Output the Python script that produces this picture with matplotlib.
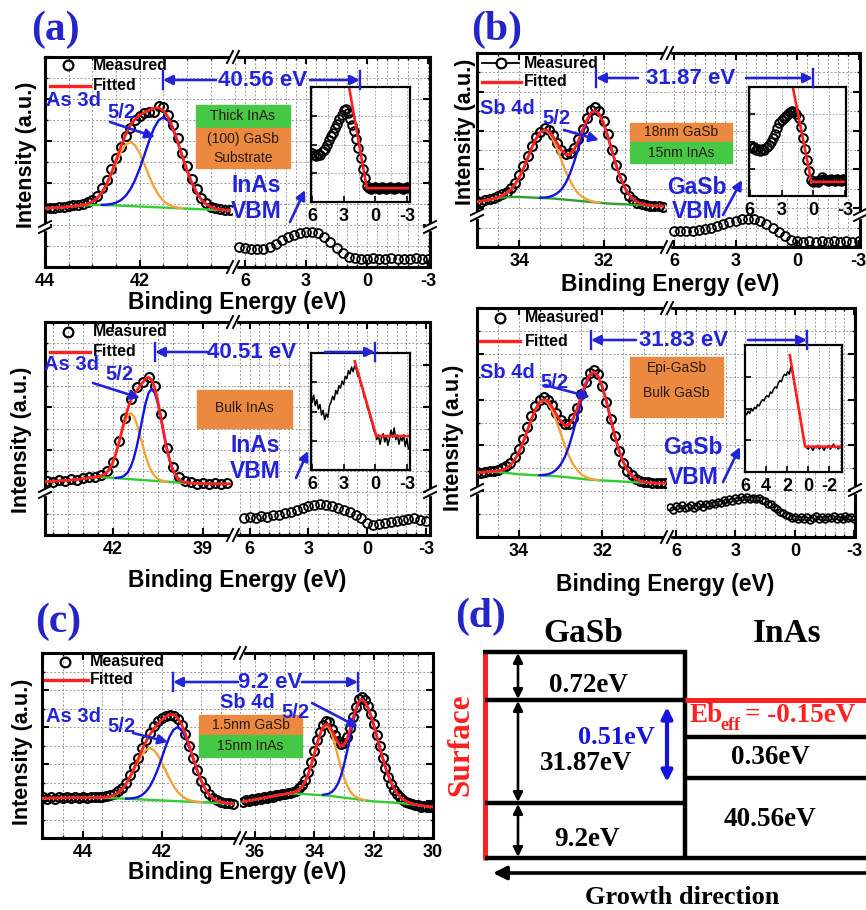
import numpy as np
import matplotlib.pyplot as plt
from matplotlib.ticker import MultipleLocator
from matplotlib.patches import Rectangle

plt.rcParams['font.family'] = ['Liberation Sans', 'DejaVu Sans']
plt.rcParams['font.weight'] = 'bold'
plt.rcParams['axes.unicode_minus'] = False

# ---------------- data (intensity in % of panel height) ----------------
# (a) top: thick InAs / (100) GaSb, As 3d5/2, 0.1 eV grid from 44.0 eV
a1_bg = [28.0, 28.1, 28.2, 28.3, 28.5, 28.7, 28.9, 29.1, 29.3, 29.4,
         29.5, 29.5, 29.5, 29.4, 29.4, 29.3, 29.2, 29.1, 29.0, 28.9,
         28.8, 28.7, 28.6, 28.5, 28.4, 28.3, 28.2, 28.1, 28.0, 27.9,
         27.8, 27.7, 27.6, 27.5, 27.4, 27.3, 27.2, 27.1, 27.0, 26.9]
a1_p1 = [0.0] * 7 + [0.1, 0.3, 0.7, 1.6, 3.2, 5.9, 9.7, 14.6, 20.2, 25.4, 29.1, 30.5,
                     29.1, 25.4, 20.2, 14.6, 9.7, 5.9, 3.2, 1.6, 0.7, 0.3, 0.1] + [0.0] * 10
a1_p2 = [0.0] * 12 + [0.1, 0.3, 0.6, 1.3, 2.6, 4.7, 7.9, 12.4, 18.1, 24.7, 31.5, 37.5, 41.5, 43.0,
                      41.5, 37.5, 31.5, 24.7, 18.1, 12.4, 7.9, 4.7, 2.6, 1.3, 0.6, 0.3, 0.1] + [0.0]
a1_meas = [28.0, 28.3, 28.0, 28.6, 28.8, 29.0, 29.5, 29.6, 30.2, 31.0,
           32.0, 34.0, 37.5, 41.5, 46.5, 52.0, 57.0, 62.5, 66.0, 70.0,
           72.0, 73.5, 74.0, 74.0, 76.5, 76.0, 72.5, 67.5, 61.5, 54.5,
           48.0, 42.0, 37.0, 33.0, 30.5, 28.8, 28.0, 27.5, 27.2, 27.0]
# InAs VBM, 0.3 eV grid from 6.3 eV
a1_vbm = [9.5, 9.0, 8.6, 8.5, 8.8, 9.6, 11.0, 12.8, 14.2, 15.2, 16.0, 16.6, 16.8, 16.3, 14.5, 11.8,
          9.0, 6.5, 4.8, 4.2, 4.0, 4.0, 4.1, 3.9, 4.0, 4.1, 3.9, 4.0, 4.0, 4.1, 3.9, 4.0]
# inset, 0.2 eV grid from 6.0 eV
a1_in = [43, 41, 40, 42, 41, 44, 46, 50, 54, 57,
         60, 64, 68, 72, 76, 80, 81, 77, 72, 67,
         62, 55, 47, 38, 29, 21, 14, 12, 11, 12,
         13, 12, 11, 13, 12, 11, 12, 13, 12, 11,
         12, 13, 12, 11, 12, 13, 12]
a1_fit_e = [2.45, 0.8, -3.3]
a1_fit = [98, 12, 12]

# (a) bottom: bulk InAs, 0.1 eV grid from 44.2 eV
a2_bg = [25.0, 25.1, 25.2, 25.3, 25.4, 25.5, 25.6, 25.7, 25.8, 25.9,
         26.0, 26.2, 26.4, 26.6, 26.8, 27.0, 27.1, 27.2, 27.2, 27.1,
         27.0, 26.9, 26.8, 26.7, 26.6, 26.5, 26.4, 26.3, 26.2, 26.1,
         26.0, 25.9, 25.8, 25.7, 25.6, 25.5, 25.4, 25.3, 25.2, 25.1,
         25.0, 24.9, 24.8, 24.7, 24.6, 24.5, 24.5, 24.4, 24.4, 24.3,
         24.3, 24.2, 24.2, 24.1, 24.1, 24.0, 24.0, 24.0, 24.0, 24.0,
         24.0, 24.0]
a2_p1 = [0.0] * 16 + [0.1, 0.2, 0.5, 1.1, 2.3, 4.2, 7.1, 11.2, 16.1, 21.5, 26.3, 29.8, 31.0,
                      29.8, 26.3, 21.5, 16.1, 11.2, 7.1, 4.2, 2.3, 1.1, 0.5, 0.2, 0.1] + [0.0] * 21
a2_p2 = [0.0] * 23 + [0.1, 0.3, 0.7, 1.6, 3.1, 5.8, 9.9, 15.5, 22.4, 29.8, 36.5, 41.3, 43.0,
                      41.3, 36.5, 29.8, 22.4, 15.5, 9.9, 5.8, 3.1, 1.6, 0.7, 0.3, 0.1] + [0.0] * 14
# measured, 0.2 eV grid from 44.2 eV
a2_meas = [25.3, 25.0, 25.8, 25.5, 26.2, 26.0, 26.8, 27.0, 27.3, 28.0, 30.0, 34.5, 44.0, 55.0, 64.0,
           69.5, 72.0, 74.0, 70.0, 57.0, 41.0, 32.0, 27.0, 25.2, 24.8, 24.0, 24.6, 23.8, 24.5, 24.0, 24.3]
a2_vbm = [8.0, 8.5, 8.2, 8.9, 8.6, 9.2, 9.6, 10.2, 11.0, 11.9, 12.8, 13.4, 14.0, 14.6, 14.3, 13.8,
          12.9, 11.9, 10.8, 9.4, 7.8, 5.8, 4.8, 5.2, 5.6, 6.2, 6.8, 7.2, 7.6, 8.0, 7.2, 6.6]
# inset line, 0.15 eV grid from 6.0 eV
a2_in = [58, 64, 55, 60, 52, 56, 47, 51, 43, 48,
         45, 55, 58, 63, 60, 68, 65, 72, 70, 76,
         73, 80, 78, 85, 82, 88, 84, 89, 86, 80,
         79, 72, 70, 62, 61, 53, 50, 44, 40, 34,
         31, 26, 30, 22, 28, 31, 24, 29, 21, 27,
         34, 28, 36, 26, 30, 22, 28, 25, 30, 20,
         27, 18]
a2_fit_e = [1.95, -0.1, -3.3]
a2_fit = [93, 29, 29]

# (b) top: 18nm GaSb / 15nm InAs, Sb 4d5/2, 0.1 eV grid from 35.0 eV
b1_bg = [23.2, 23.6, 24.0, 24.4, 24.8, 25.2, 25.5, 25.7, 25.8, 25.8,
         25.8, 25.7, 25.6, 25.5, 25.4, 25.3, 25.2, 25.1, 25.0, 24.8,
         24.6, 24.4, 24.2, 24.0, 23.8, 23.6, 23.4, 23.2, 23.0, 22.8,
         22.6, 22.4, 22.3, 22.2, 22.1, 22.0, 21.9, 21.8, 21.7, 21.6,
         21.5, 21.4, 21.3, 21.2, 21.1]
b1_p1 = [0.0] * 3 + [0.1, 0.2, 0.5, 1.1, 2.1, 3.8, 6.4, 10.1, 14.7, 20.1, 25.7, 30.5, 33.8, 35.0,
                     33.8, 30.5, 25.7, 20.1, 14.7, 10.1, 6.4, 3.8, 2.1, 1.1, 0.5, 0.2, 0.1] + [0.0] * 15
b1_p2 = [0.0] * 15 + [0.1, 0.3, 0.7, 1.5, 2.9, 5.1, 8.6, 13.5, 19.8, 27.0, 34.5, 40.9, 45.4, 47.0,
                      45.4, 40.9, 34.5, 27.0, 19.8, 13.5, 8.6, 5.1, 2.9, 1.5, 0.7, 0.3, 0.1] + [0.0] * 3
b1_meas = [23.5, 23.4, 24.3, 24.6, 25.4, 26.2, 27.3, 28.6, 30.5, 33.0,
           37.0, 41.5, 46.8, 52.0, 56.5, 59.5, 61.2, 60.5, 57.5, 53.5,
           50.0, 48.0, 48.5, 51.0, 55.5, 61.0, 66.5, 70.5, 72.0, 70.0,
           65.0, 58.0, 50.0, 42.5, 35.5, 30.0, 26.5, 24.0, 22.8, 22.0,
           21.6, 21.3, 21.0, 21.0, 20.8]
# GaSb VBM, 0.3 eV grid from 6.0 eV
b1_vbm = [8.0, 8.2, 8.0, 8.3, 8.6, 9.2, 10.0, 11.0, 12.0, 12.9, 13.6, 14.2, 14.5, 14.2, 13.4, 12.0,
          10.0, 7.8, 5.5, 3.8, 3.0, 2.8, 2.9, 2.8, 2.9, 2.8, 2.9, 2.8, 2.9, 2.8, 2.9]
# inset, 0.2 eV grid from 6.0 eV
b1_in = [46, 44, 45, 42, 43, 41, 43, 42, 45, 47,
         50, 53, 57, 62, 67, 70, 72, 73, 75, 77,
         78, 77, 75, 72, 63, 53, 43, 33, 23, 15,
         13, 14, 13, 15, 17, 16, 15, 14, 16, 15,
         14, 16, 15, 14, 16, 15]
b1_fit_e = [1.94, 0.2, -3.1]
b1_fit = [100, 13, 13]

# (b) bottom: epi-GaSb / bulk GaSb, 0.1 eV grid from 35.0 eV
b2_bg = [28.0, 28.2, 28.4, 28.5, 28.5, 28.4, 28.2, 28.0, 27.8, 27.6,
         27.4, 27.3, 27.2, 27.1, 27.0, 26.9, 26.8, 26.7, 26.6, 26.5,
         26.4, 26.2, 26.0, 25.8, 25.6, 25.4, 25.2, 25.0, 24.9, 24.8,
         24.7, 24.6, 24.5, 24.4, 24.3, 24.2, 24.1, 24.0, 23.9, 23.8,
         23.7, 23.6, 23.6, 23.5, 23.5, 23.5]
b2_p1 = [0.0] * 3 + [0.1, 0.2, 0.5, 1.0, 2.0, 3.6, 6.0, 9.5, 13.9, 19.0, 24.2, 28.7, 31.9, 33.0,
                     31.9, 28.7, 24.2, 19.0, 13.9, 9.5, 6.0, 3.6, 2.0, 1.0, 0.5, 0.2, 0.1] + [0.0] * 16
b2_p2 = [0.0] * 15 + [0.1, 0.3, 0.7, 1.5, 2.9, 5.1, 8.6, 13.5, 19.8, 27.0, 34.5, 40.9, 45.4, 47.0,
                      45.4, 40.9, 34.5, 27.0, 19.8, 13.5, 8.6, 5.1, 2.9, 1.5, 0.7, 0.3, 0.1] + [0.0] * 4
b2_meas = [28.3, 28.0, 28.6, 28.9, 29.0, 29.4, 30.0, 31.0, 32.5, 35.0,
           38.5, 43.0, 48.0, 53.0, 57.0, 59.8, 61.0, 60.0, 57.5, 54.0,
           51.0, 49.5, 49.5, 52.0, 56.5, 62.5, 67.5, 71.5, 73.0, 71.0,
           66.0, 59.0, 51.5, 44.0, 37.5, 32.5, 29.0, 27.0, 25.5, 24.5,
           24.2, 23.8, 23.5, 23.7, 23.4, 23.6]
# GaSb VBM, 0.15 eV grid from 6.3 eV
b2_vbm = [13.0, 12.0, 13.5, 12.5, 13.8, 12.6, 13.2, 14.0, 12.8, 13.6,
          14.2, 13.0, 14.6, 13.8, 15.0, 14.2, 15.4, 14.8, 16.0, 15.2,
          16.4, 15.8, 17.0, 16.2, 17.4, 16.6, 17.6, 16.8, 17.2, 16.4,
          17.0, 16.0, 15.6, 14.6, 14.2, 13.0, 12.4, 11.0, 10.4, 9.4,
          9.0, 8.2, 8.8, 7.8, 8.6, 8.0, 8.8, 7.6, 8.4, 9.0,
          8.0, 8.6, 7.8, 8.8, 8.2, 9.0, 7.8, 8.6, 8.0, 9.2,
          8.2, 8.8, 8.0]
# inset line, 0.15 eV grid from 6.0 eV
b2_in = [47, 45, 48, 46, 50, 48, 51, 50, 53, 52,
         55, 57, 56, 59, 60, 59, 63, 62, 65, 67,
         66, 70, 72, 71, 75, 77, 76, 79, 77, 83,
         78, 71, 64, 56, 49, 42, 34, 27, 21, 19,
         18, 20, 19, 17, 20, 19, 21, 18, 20, 19,
         17, 20, 19, 21, 18, 20, 22, 19, 20, 18,
         20, 19]
b2_fit_e = [1.75, 0.3, -3.2]
b2_fit = [92, 20, 20]

# (c) 1.5nm GaSb / 15nm InAs: As 3d (0.1 eV grid from 45.0 eV) and Sb 4d (from 36.4 eV)
c1_bg = [21.5, 21.5, 21.6, 21.6, 21.6, 21.7, 21.7, 21.7, 21.8, 21.8,
         21.8, 21.8, 21.8, 21.8, 21.8, 21.8, 21.7, 21.6, 21.5, 21.4,
         21.3, 21.2, 21.1, 21.0, 20.9, 20.8, 20.7, 20.6, 20.5, 20.4,
         20.3, 20.2, 20.1, 20.0, 19.9, 19.8, 19.7, 19.6, 19.5, 19.4,
         19.3, 19.2, 19.1, 19.0, 18.9, 18.8, 18.7, 18.6, 18.5]
c1_p1 = [0.0] * 14 + [0.1, 0.2, 0.4, 0.9, 1.7, 3.1, 5.1, 8.1, 11.8, 16.1, 20.5, 24.4, 27.0, 28.0,
                      27.0, 24.4, 20.5, 16.1, 11.8, 8.1, 5.1, 3.1, 1.7, 0.9, 0.4, 0.2, 0.1] + [0.0] * 8
c1_p2 = [0.0] * 21 + [0.1, 0.3, 0.6, 1.2, 2.4, 4.4, 7.3, 11.5, 16.8, 23.0, 29.3, 34.8, 38.6, 40.0,
                      38.6, 34.8, 29.3, 23.0, 16.8, 11.5, 7.3, 4.4, 2.4, 1.2, 0.6, 0.3, 0.1] + [0.0]
c1_meas = [22.0, 21.0, 22.2, 21.2, 21.9, 21.4, 22.3, 21.5, 22.0, 21.6,
           22.2, 21.7, 22.3, 21.9, 22.4, 22.3, 22.6, 23.0, 23.8, 25.2,
           27.0, 30.0, 34.0, 38.5, 43.5, 48.5, 53.0, 57.0, 60.5, 63.0,
           65.0, 66.0, 66.5, 66.0, 64.5, 61.0, 56.0, 50.0, 43.0, 37.0,
           31.0, 27.0, 24.0, 21.8, 20.3, 19.6, 18.8, 18.9, 18.4]
c2_bg = [19.6, 19.9, 20.2, 20.5, 20.8, 21.1, 21.4, 21.7, 22.0, 22.3,
         22.6, 22.9, 23.2, 23.5, 23.7, 23.9, 24.0, 24.0, 24.0, 23.9,
         23.8, 23.7, 23.6, 23.5, 23.4, 23.3, 23.2, 23.1, 23.0, 22.8,
         22.6, 22.4, 22.2, 22.0, 21.8, 21.6, 21.4, 21.2, 21.0, 20.8,
         20.6, 20.4, 20.2, 20.0, 19.8, 19.7, 19.6, 19.5, 19.4, 19.3,
         19.2, 19.1, 19.0, 18.9, 18.7, 18.5, 18.3, 18.1, 17.9, 17.7,
         17.5, 17.3, 17.1, 16.9, 16.8]
c2_p1 = [0.0] * 15 + [0.1, 0.3, 0.6, 1.2, 2.3, 4.1, 7.0, 10.9, 16.0, 21.9, 27.9, 33.1, 36.7, 38.0,
                      36.7, 33.1, 27.9, 21.9, 16.0, 10.9, 7.0, 4.1, 2.3, 1.2, 0.6, 0.3, 0.1] + [0.0] * 23
c2_p2 = [0.0] * 27 + [0.3, 0.6, 1.2, 2.4, 4.3, 7.3, 11.7, 17.6, 24.7, 32.8, 40.8, 47.6, 52.3, 54.0,
                      53.1, 50.5, 46.5, 41.5, 35.7, 29.8, 24.0, 18.7, 14.1, 10.3, 7.3, 5.0, 3.3,
                      2.1, 1.3, 0.8, 0.4, 0.3, 0.2] + [0.0] * 5
c2_meas = [19.3, 20.3, 19.9, 20.9, 20.6, 21.5, 21.2, 22.1, 21.8, 22.7,
           22.4, 23.3, 23.0, 23.9, 23.6, 24.4, 24.5, 25.0, 25.6, 26.8,
           28.6, 31.5, 35.5, 41.0, 47.0, 53.0, 57.5, 61.0, 63.0, 62.5,
           59.0, 55.5, 52.5, 51.0, 51.5, 54.5, 59.5, 65.5, 71.0, 75.0,
           76.0, 74.5, 71.5, 67.0, 61.5, 55.5, 49.5, 43.5, 38.0, 33.0,
           29.0, 26.0, 23.8, 22.0, 20.5, 19.6, 18.7, 18.3, 17.7, 17.6,
           17.0, 17.4, 16.8, 17.0, 16.5]

# (d) band alignment labels
d_layers = ['GaSb', 'InAs']
d_gasb = ['0.72eV', '31.87eV', '9.2eV']
d_inas = ['0.36eV', '40.56eV']
d_offset = '0.51eV'
d_eb = '= -0.15eV'


def grid(start, step, vals):
    return np.round(start - step * np.arange(len(vals)), 3)


# ---------------- drawing ----------------
W, H = 866, 910
fig = plt.figure(figsize=(W / 100, H / 100), dpi=100)
BLUE = '#2323DA'
RED = '#FF2020'
ORANGE = '#F4A23A'
CBLUE = '#1414E0'
BOXO = '#EC8940'
BOXG = '#45C845'
SERIF = ['Liberation Serif', 'DejaVu Serif']


def rect(x, y, w, h):
    return [x / W, 1 - (y + h) / H, w / W, h / H]


def frame(r, xlim, major, minor, side):
    ax = fig.add_axes(rect(*r))
    ax.set_xlim(*xlim)
    ax.set_ylim(0, 100)
    ax.xaxis.set_major_locator(MultipleLocator(major))
    ax.xaxis.set_minor_locator(MultipleLocator(minor))
    ax.yaxis.set_major_locator(MultipleLocator(20))
    ax.yaxis.set_minor_locator(MultipleLocator(10))
    ax.grid(which='both', color='#9a9a9a', ls=(0, (2, 2)), lw=0.7)
    ax.set_axisbelow(True)
    ax.tick_params(which='both', direction='in', top=True, labelleft=False,
                   left=(side == 'L'), right=(side == 'R'))
    ax.tick_params(which='major', length=5, width=1.5, labelsize=13, pad=4)
    ax.tick_params(which='minor', length=2.5, width=1.0)
    for s in ax.spines.values():
        s.set_linewidth(2.2)
    ax.spines['right' if side == 'L' else 'left'].set_visible(False)
    return ax


def core(ax, start, bg, p1, p2, mstart, mstep, meas, green='#33CC33'):
    e = grid(start, 0.1, bg)
    bg, p1, p2 = np.array(bg), np.array(p1), np.array(p2)
    ax.plot(grid(mstart, mstep, meas), meas, 'o', mfc='none', mec='k', ms=6.4, mew=1.5, zorder=3)
    ax.plot(e, bg, color=green, lw=1.7, zorder=4)
    ax.plot(e[p1 > 0], (bg + p1)[p1 > 0], color=ORANGE, lw=1.7, zorder=4)
    ax.plot(e[p2 > 0], (bg + p2)[p2 > 0], color=CBLUE, lw=1.7, zorder=4)
    ax.plot(e, bg + p1 + p2, color=RED, lw=2.0, zorder=5)


def vbm(ax, start, step, vals, ms=6.4):
    ax.plot(grid(start, step, vals), vals, 'o', mfc='none', mec='k', ms=ms, mew=1.3, zorder=3)


def inset(r, xlim, major, step, vals, fe, fv, line=False):
    ax = fig.add_axes(rect(*r), zorder=5)
    ax.set_xlim(*xlim)
    ax.set_ylim(0, 100)
    ax.xaxis.set_major_locator(MultipleLocator(major))
    ax.xaxis.set_minor_locator(MultipleLocator(major / 2))
    ax.yaxis.set_major_locator(MultipleLocator(25))
    ax.grid(which='both', color='#9a9a9a', ls=(0, (2, 2)), lw=0.6)
    ax.tick_params(which='both', direction='in', labelleft=False, length=4, width=1.2,
                   labelsize=13, pad=4)
    ax.tick_params(which='minor', length=0)
    for s in ax.spines.values():
        s.set_linewidth(1.6)
    e = grid(6.0, step, vals)
    if line:
        ax.plot(e, vals, color='k', lw=1.1)
    else:
        ax.plot(e, vals, 'o', mfc='none', mec='k', ms=6.2, mew=1.4)
    ax.plot(fe, fv, color=RED, lw=1.9)


# (a) top
ax = frame((45, 57, 188, 210), (44.0, 40.03), 2, 0.5, 'L')
core(ax, 44.0, a1_bg, a1_p1, a1_p2, 44.0, 0.1, a1_meas)
ax = frame((233, 57, 197, 210), (6.6, -3.1), 3, 0.5, 'R')
vbm(ax, 6.3, 0.3, a1_vbm)
inset((311, 87, 99, 115), (6.1, -3.3), 3, 0.2, a1_in, a1_fit_e, a1_fit)

# (a) bottom
ax = frame((45, 322, 188, 213), (44.25, 38.0), 3, 0.5, 'L')
core(ax, 44.2, a2_bg, a2_p1, a2_p2, 44.2, 0.2, a2_meas)
ax = frame((233, 322, 197, 213), (6.85, -3.2), 3, 0.5, 'R')
vbm(ax, 6.3, 0.3, a2_vbm)
inset((311, 353, 99, 117), (6.1, -3.3), 3, 0.15, a2_in, a2_fit_e, a2_fit, line=True)

# (b) top
ax = frame((477, 53, 190, 194), (35.0, 30.5), 2, 0.5, 'L')
core(ax, 35.0, b1_bg, b1_p1, b1_p2, 35.0, 0.1, b1_meas, green='#2E9E2E')
ax = frame((667, 53, 193, 194), (6.35, -3.07), 3, 0.5, 'R')
vbm(ax, 6.0, 0.3, b1_vbm)
inset((749, 87, 97, 109), (6.05, -3.05), 3, 0.2, b1_in, b1_fit_e, b1_fit)

# (b) bottom
ax = frame((477, 308, 190, 229), (35.0, 30.45), 2, 0.5, 'L')
core(ax, 35.0, b2_bg, b2_p1, b2_p2, 35.0, 0.1, b2_meas)
ax = frame((667, 308, 188, 229), (6.45, -3.03), 3, 0.5, 'R')
vbm(ax, 6.3, 0.15, b2_vbm, ms=4.8)
inset((745, 345, 97, 127), (6.0, -3.2), 2, 0.15, b2_in, b2_fit_e, b2_fit, line=True)

# (c)
ax = frame((42, 653, 198, 185), (45.03, 40.02), 2, 0.5, 'L')
core(ax, 45.0, c1_bg, c1_p1, c1_p2, 45.0, 0.1, c1_meas)
ax = frame((240, 653, 193, 185), (36.5, 30.0), 2, 0.5, 'R')
core(ax, 36.4, c2_bg, c2_p1, c2_p2, 36.4, 0.1, c2_meas)

# ---------------- overlay in pixel coordinates ----------------
ov = fig.add_axes([0, 0, 1, 1], zorder=10)
ov.set_xlim(0, W)
ov.set_ylim(H, 0)
ov.set_autoscale_on(False)
ov.axis('off')


def xbreak(x, y):
    ov.add_patch(Rectangle((x - 3, y - 4), 6, 8, color='white', zorder=1))
    for dx in (-3, 3):
        ov.plot([x + dx - 3, x + dx + 3], [y + 6, y - 6], color='k', lw=1.4)


def ybreak(x, y):
    ov.add_patch(Rectangle((x - 4, y - 3), 8, 6, color='white', zorder=1))
    for dy in (-3, 3):
        ov.plot([x - 6, x + 6], [y + dy + 3, y + dy - 3], color='k', lw=1.4)


def arrow(p0, p1, color=BLUE, lw=1.9, ms=14, style='-|>'):
    ov.annotate('', xy=p1, xytext=p0,
                arrowprops=dict(arrowstyle=style, color=color, lw=lw, mutation_scale=ms,
                                shrinkA=0, shrinkB=0))


def span(x0, x1, y, t0, t1, tc, label):
    for x in (x0, x1):
        ov.plot([x, x], [y - 9, y + 9], color=BLUE, lw=1.7)
    arrow((t0, y), (x0, y))
    arrow((t1, y), (x1, y))
    ov.text(tc, y, label, color=BLUE, fontsize=16, ha='center', va='center')


def legend(cx, y1, lx0, lx1, y2, tx, line=False):
    if line:
        ov.plot([lx0, lx1 - 2], [y1, y1], color='k', lw=1.3)
    ov.plot([cx], [y1], 'o', mfc='white' if line else 'none', mec='k', ms=7, mew=1.6)
    ov.text(tx, y1, 'Measured', fontsize=11.5, va='center')
    ov.plot([lx0, lx1], [y2, y2], color=RED, lw=2.4)
    ov.text(tx, y2, 'Fitted', fontsize=11.5, va='center')


def core_label(x, y, main, sx, sy, a0, a1):
    ov.text(x, y, main, color=BLUE, fontsize=14.5, va='center')
    ov.text(sx, sy, '5/2', color=BLUE, fontsize=14.5, va='center')
    arrow(a0, a1)


def vbm_label(cx, y1, y2, name, a0, a1):
    ov.text(cx, y1, name, color=BLUE, fontsize=16.5, ha='center', va='center')
    ov.text(cx, y2, 'VBM', color=BLUE, fontsize=16.5, ha='center', va='center')
    arrow(a0, a1)


def layer(x, y, w, h, color, lines):
    ov.add_patch(Rectangle((x, y), w, h, color=color, zorder=2))
    for ty, t in lines:
        ov.text(x + w / 2, ty, t, fontsize=10, weight='normal', color='#2a1a10',
                ha='center', va='center', zorder=3)


def xlabel(x, y):
    ov.text(x, y, 'Binding Energy (eV)', fontsize=16.5, ha='center', va='center')


def ylabel(x, y):
    ov.text(x, y, 'Intensity (a.u.)', fontsize=15.5, rotation=90, ha='center', va='center')


def plabel(x, y, t):
    ov.text(x, y, t, fontsize=30, family=SERIF, color='#2424C8', ha='center', va='center')


# breaks
for x, y in [(233, 57), (233, 267), (233, 322), (233, 535), (667, 53), (667, 247),
             (667, 308), (667, 537), (240, 653), (240, 838)]:
    xbreak(x, y)
for x, y in [(45, 227), (430, 227), (45, 492), (430, 492), (477, 215), (860, 215),
             (477, 490), (855, 490)]:
    ybreak(x, y)

# panel (a) top
plabel(55, 30, '(a)')
ylabel(27, 155)
xlabel(237, 302)
legend(68, 65, 50, 90, 86, 93)
span(163, 360, 80, 216, 310, 263, '40.56 eV')
core_label(46, 100, 'As 3d', 107, 113, (110, 122), (155, 137))
layer(196, 105, 94, 23, BOXG, [(116, 'Thick InAs')])
layer(196, 128, 94, 40, BOXO, [(139, '(100) GaSb'), (158, 'Substrate')])
vbm_label(256, 185, 212, 'InAs', (290, 222), (305, 190))

# panel (a) bottom
ylabel(22, 440)
xlabel(237, 580)
legend(68, 332, 50, 90, 352, 93)
span(155, 375, 352, 208, 325, 252, '40.51 eV')
core_label(44, 365, 'As 3d', 105, 375, (93, 383), (140, 398))
layer(197, 390, 95, 38, BOXO, [(408, 'Bulk InAs')])
vbm_label(255, 445, 472, 'InAs', (296, 478), (308, 451))

# panel (b) top
plabel(497, 30, '(b)')
ylabel(466, 132)
xlabel(670, 285)
legend(501, 63, 482, 521, 82, 524, line=True)
span(596, 813, 78, 638, 746, 691, '31.87 eV')
core_label(480, 108, 'Sb 4d', 542, 118, (564, 130), (599, 140))
layer(630, 123, 102, 19, BOXO, [(132, '18nm GaSb')])
layer(630, 142, 102, 21, BOXG, [(153, '15nm InAs')])
vbm_label(697, 188, 212, 'GaSb', (723, 215), (742, 180))

# panel (b) bottom
ylabel(454, 438)
xlabel(665, 585)
legend(500, 318, 480, 520, 341, 525)
span(591, 807, 340, 636, 748, 684, '31.83 eV')
core_label(480, 372, 'Sb 4d', 540, 382, (545, 385), (590, 397))
layer(630, 357, 93, 60, BOXO, [(368, 'Epi-GaSb'), (393, 'Bulk GaSb')])
vbm_label(693, 448, 478, 'GaSb', (723, 482), (740, 447))

# panel (c)
plabel(58, 622, '(c)')
ylabel(23, 752)
xlabel(237, 873)
legend(65, 662, 45, 88, 680, 90)
span(173, 358, 682, 238, 302, 270, '9.2 eV')
core_label(46, 717, 'As 3d', 107, 727, (133, 733), (168, 742))
core_label(220, 703, 'Sb 4d', 281, 712, (312, 703), (358, 727))
layer(199, 715, 103, 20, BOXO, [(725, '1.5nm GaSb')])
layer(199, 735, 103, 22, BOXG, [(746, '15nm InAs')])

# panel (d): band alignment sketch
plabel(481, 617, '(d)')


def seg(x0, y0, x1, y1, c='k', lw=3.2):
    ov.plot([x0, x1], [y0, y1], color=c, lw=lw, solid_capstyle='butt')


seg(485, 650, 485, 860, c=RED, lw=3.6)
seg(483, 652, 687, 652)
seg(685, 650, 685, 860)
seg(485, 700, 687, 700)
seg(685, 700, 866, 700, c=RED, lw=3.6)
seg(685, 737, 866, 737)
seg(685, 778, 866, 778)
seg(485, 803, 687, 803)
seg(485, 858, 866, 858)
for y0, y1 in [(653, 699), (701, 802), (804, 857)]:
    arrow((518, y0), (518, y1), color='k', lw=1.9, ms=14, style='<|-|>')
arrow((667, 707), (667, 782), color=CBLUE, lw=3, ms=16, style='<|-|>')
arrow((866, 873), (493, 873), color='k', lw=2.6, ms=20)

ov.text(583, 633, d_layers[0], fontsize=24, family=SERIF, ha='center', va='center')
ov.text(787, 633, d_layers[1], fontsize=24, family=SERIF, ha='center', va='center')
ov.text(588, 685, d_gasb[0], fontsize=19.5, family=SERIF, ha='center', va='center')
ov.text(586, 763, d_gasb[1], fontsize=19.5, family=SERIF, ha='center', va='center')
ov.text(587, 840, d_gasb[2], fontsize=19.5, family=SERIF, ha='center', va='center')
ov.text(616, 737, d_offset, fontsize=19, family=SERIF, color=CBLUE, ha='center', va='center')
ov.text(689, 716, 'Eb', fontsize=19.5, family=SERIF, color=RED, ha='left', va='center')
ov.text(720, 725, 'eff', fontsize=13, family=SERIF, color=RED, ha='left', va='center')
ov.text(745, 716, d_eb, fontsize=19.5, family=SERIF, color=RED, ha='left', va='center')
ov.text(770, 757, d_inas[0], fontsize=19.5, family=SERIF, ha='center', va='center')
ov.text(770, 820, d_inas[1], fontsize=19.5, family=SERIF, ha='center', va='center')
ov.text(461, 745, 'Surface', fontsize=22.5, family=SERIF, color=RED, rotation=90,
        ha='center', va='center')
ov.text(682, 897, 'Growth direction', fontsize=19, family=SERIF, ha='center', va='center')

fig.savefig('out.png', dpi=100)
